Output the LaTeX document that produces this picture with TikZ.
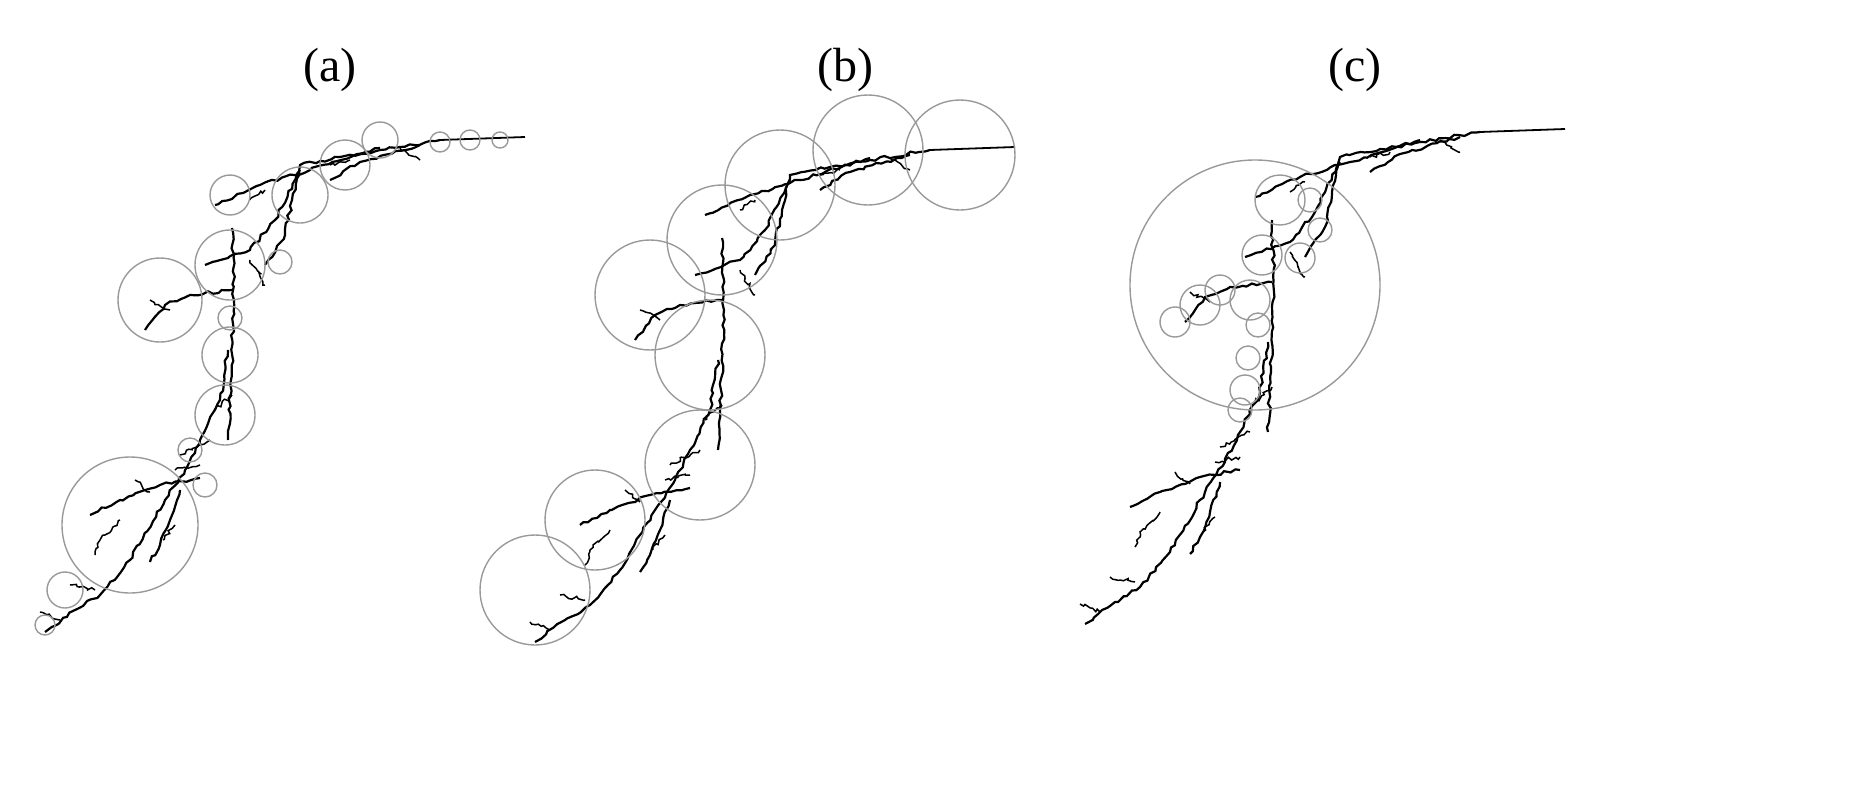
\documentclass[tikz,border=0pt]{standalone}
\usepackage{fontspec}
\setmainfont{Liberation Serif}
\usetikzlibrary{decorations.pathmorphing}
\begin{document}
\begin{tikzpicture}[x=1pt,y=-1pt,
  br/.style={black,line width=2.2pt,decorate,decoration={random steps,segment length=5pt,amplitude=1.6pt}},
  tw/.style={black,line width=1.5pt,decorate,decoration={random steps,segment length=3pt,amplitude=2pt}},
  ring/.style={gray!80,line width=1.4pt},
  lab/.style={font=\fontsize{48}{48}\selectfont}]
\useasboundingbox (0,0) rectangle (1855,795);
\pgfmathsetseed{7}
\newcommand{\tree}{%
  \draw[black,line width=1.8pt] (525,137) -- (440,140);
  \draw[br] (440,140) -- (380,150) -- (340,157) -- (300,165) -- (292,200) -- (285,235) -- (265,265);
  \draw[br] (380,148) -- (310,170) -- (260,185) -- (215,205);
  \draw[br] (420,145) -- (360,162) -- (330,180);
  \draw[br] (232,228) -- (234,300) -- (231,380) -- (228,440);
  \draw[br] (300,170) -- (275,220) -- (250,250) -- (205,265);
  \draw[br] (232,290) -- (190,295) -- (165,305) -- (145,330);
  \draw[br] (228,350) -- (220,400) -- (200,440) -- (185,470) -- (165,500) -- (130,560) -- (100,595) -- (75,610) -- (45,632);
  \draw[br] (200,478) -- (160,485) -- (120,500) -- (90,515);
  \draw[br] (180,490) -- (170,520) -- (160,545) -- (150,562);
  \draw[tw] (210,440) -- (180,455);
  \draw[tw] (200,465) -- (175,470);
  \draw[tw] (150,492) -- (135,480);
  \draw[tw] (120,520) -- (100,540) -- (95,555);
  \draw[tw] (95,590) -- (70,585);
  \draw[tw] (170,310) -- (150,300);
  \draw[tw] (250,260) -- (265,285);
  \draw[tw] (350,160) -- (330,165);
  \draw[tw] (400,148) -- (420,160);
  \draw[tw] (265,190) -- (250,200);
  \draw[tw] (232,395) -- (215,410);
  \draw[tw] (60,620) -- (40,612);
  \draw[tw] (163,540) -- (175,525);
}
% (a)
\node[lab] (la) at (330,70) {(a)};
\tree
\foreach \x/\y/\r in {380/140/18,345/165/25,300/195/28,230/195/20,230/265/35,280/262/12,160/300/42,230/318/12,230/355/28,225/415/30,190/450/12,205/485/12,130/525/68,65/590/18,45/625/10,470/140/10,440/142/10,500/140/8}
  \draw[ring] (\x,\y) circle[radius=\r];
% (b)
\node[lab] (lb) at (845,70) {(b)};
\begin{scope}[xshift=490pt,yshift=-10pt]\tree\end{scope}
\foreach \x/\y/\r in {868/150/55,960/155/55,780/185/55,722/240/55,650/295/55,710/355/55,700/465/55,595/520/50,535/590/55}
  \draw[ring] (\x,\y) circle[radius=\r];
% (c)
\node[lab] (lc) at (1355,70) {(c)};
\begin{scope}[xshift=1040pt,yshift=8pt]\tree\end{scope}
\draw[ring] (1255,285) circle[radius=125];
\foreach \x/\y/\r in {1280/200/25,1310/200/12,1320/230/12,1300/258/15,1262/255/20,1250/300/20,1220/290/15,1200/305/20,1175/322/15,1258/325/12,1248/358/12,1245/390/15,1240/410/12}
  \draw[ring] (\x,\y) circle[radius=\r];
\end{tikzpicture}
\end{document}
